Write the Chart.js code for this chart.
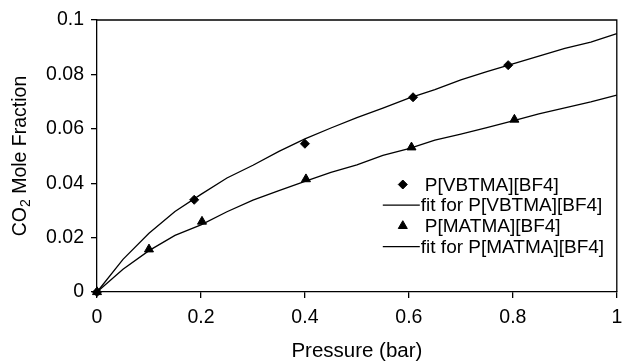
<!DOCTYPE html>
<html>
<head>
<meta charset="utf-8">
<script src="https://cdn.jsdelivr.net/npm/chart.js@4/dist/chart.umd.min.js"></script>
<style>
  html, body { margin: 0; padding: 0; background: #fff; }
  #wrap { width: 623px; height: 362px; }
</style>
</head>
<body>
<div id="wrap"><canvas id="c" width="623" height="362"></canvas></div>
<script>
// CO2 solubility in two poly(ionic liquid)s versus pressure
const seriesLabels = ['P[VBTMA][BF4]', 'fit for P[VBTMA][BF4]', 'P[MATMA][BF4]', 'fit for P[MATMA][BF4]'];

// measured points (pressure in bar, CO2 mole fraction)
const vbtmaPressure = [0, 0.187, 0.400, 0.608, 0.791];
const vbtmaFraction = [0, 0.0339, 0.0545, 0.0716, 0.0834];
const matmaPressure = [0, 0.100, 0.202, 0.402, 0.605, 0.803];
const matmaFraction = [0, 0.0157, 0.0259, 0.0415, 0.0532, 0.0634];

// fitted curves, tabulated every 0.05 bar
const fitPressure = [0, 0.05, 0.10, 0.15, 0.20, 0.25, 0.30, 0.35, 0.40, 0.45, 0.50,
                     0.55, 0.60, 0.65, 0.70, 0.75, 0.80, 0.85, 0.90, 0.95, 1.00];
const vbtmaFit = [0, 0.0120, 0.0216, 0.0296, 0.0359, 0.0419, 0.0466, 0.0517, 0.0563, 0.0603, 0.0641,
                  0.0676, 0.0713, 0.0744, 0.0780, 0.0810, 0.0839, 0.0867, 0.0896, 0.0919, 0.0950];
const matmaFit = [0, 0.0084, 0.0152, 0.0208, 0.0247, 0.0295, 0.0338, 0.0373, 0.0407, 0.0440, 0.0467,
                  0.0502, 0.0527, 0.0558, 0.0580, 0.0604, 0.0629, 0.0655, 0.0677, 0.0699, 0.0724];

// axis ticks
const xTickStep = 0.2;
const yTickStep = 0.02;

const FONT = '"Liberation Sans", Arial, sans-serif';
const INK = '#000';

const pairs = (xs, ys) => xs.map((x, i) => ({ x: x, y: ys[i] }));
const tickText = v => String(+Number(v).toFixed(2));

function marker(ctx, style, r, x, y) {
  ctx.save();
  ctx.fillStyle = INK;
  ctx.strokeStyle = INK;
  ctx.lineWidth = 1;
  if (Chart.helpers && Chart.helpers.drawPoint) {
    Chart.helpers.drawPoint(ctx, { pointStyle: style, radius: r, rotation: 0, borderWidth: 1 }, x, y);
  }
  ctx.restore();
}

// box around the plot, legend and axis titles
const decorations = {
  id: 'decorations',
  afterDraw(chart) {
    const { ctx, chartArea: a } = chart;
    ctx.save();
    ctx.strokeStyle = INK;
    ctx.lineWidth = 1.3;
    ctx.beginPath();
    ctx.moveTo(a.left, a.top);
    ctx.lineTo(a.right, a.top);
    ctx.lineTo(a.right, a.bottom);
    ctx.stroke();

    // legend inside the plot, lower right
    const lx = a.right - 234;
    const ly = a.top + 164.5;
    const rowH = 20.7;
    ctx.font = '19px ' + FONT;
    ctx.fillStyle = INK;
    ctx.textBaseline = 'middle';
    ctx.textAlign = 'left';
    chart.data.datasets.forEach((ds, i) => {
      const y = ly + rowH * i;
      if (ds.showLine === false) {
        marker(ctx, ds.pointStyle, ds.pointRadius, lx + 20, y);
        ctx.fillText(ds.label, lx + 42, y + 1);
      } else {
        ctx.beginPath();
        ctx.lineWidth = ds.borderWidth;
        ctx.moveTo(lx, y);
        ctx.lineTo(lx + 37, y);
        ctx.stroke();
        ctx.fillText(ds.label, lx + 38, y + 1);
      }
    });

    // x title
    ctx.font = '20.5px ' + FONT;
    ctx.textAlign = 'center';
    ctx.fillText('Pressure (bar)', (a.left + a.right) / 2, 351);

    // y title with subscript
    ctx.translate(21, (a.top + a.bottom) / 2);
    ctx.rotate(-Math.PI / 2);
    const big = '19.5px ' + FONT, small = '14px ' + FONT;
    ctx.font = big;
    const w1 = ctx.measureText('CO').width;
    const w3 = ctx.measureText(' Mole Fraction').width;
    ctx.font = small;
    const w2 = ctx.measureText('2').width;
    let x = -(w1 + w2 + w3) / 2;
    ctx.textAlign = 'left';
    ctx.font = big;
    ctx.fillText('CO', x, 0);
    x += w1;
    ctx.font = small;
    ctx.fillText('2', x, 5);
    x += w2;
    ctx.font = big;
    ctx.fillText(' Mole Fraction', x, 0);
    ctx.restore();
  }
};

new Chart(document.getElementById('c'), {
  type: 'scatter',
  data: {
    datasets: [
      { label: seriesLabels[0], data: pairs(vbtmaPressure, vbtmaFraction), showLine: false,
        pointStyle: 'rectRot', pointRadius: 4.5, backgroundColor: INK, borderColor: INK, clip: false },
      { label: seriesLabels[1], data: pairs(fitPressure, vbtmaFit), showLine: true, pointRadius: 0,
        borderColor: INK, borderWidth: 1.3, tension: 0, clip: false },
      { label: seriesLabels[2], data: pairs(matmaPressure, matmaFraction), showLine: false,
        pointStyle: 'triangle', pointRadius: 5.2, backgroundColor: INK, borderColor: INK, clip: false },
      { label: seriesLabels[3], data: pairs(fitPressure, matmaFit), showLine: true, pointRadius: 0,
        borderColor: INK, borderWidth: 1.3, tension: 0, clip: false }
    ]
  },
  options: {
    responsive: false,
    animation: false,
    layout: { padding: { top: 20, right: 5, left: 0, bottom: 0 } },
    plugins: { legend: { display: false }, tooltip: { enabled: false } },
    scales: {
      x: {
        type: 'linear', min: 0, max: 1,
        ticks: { stepSize: xTickStep, color: INK, padding: 8, font: { family: FONT, size: 19.5 },
                 maxRotation: 0, callback: tickText },
        grid: { drawOnChartArea: false, color: INK, lineWidth: 1.3, tickLength: 6 },
        border: { display: true, color: INK, width: 1.3 },
        afterFit(s) { s.height = 70; s.paddingLeft = 0; s.paddingRight = 0; }
      },
      y: {
        type: 'linear', min: 0, max: 0.1,
        ticks: { stepSize: yTickStep, color: INK, padding: 7, font: { family: FONT, size: 19.5 },
                 callback: tickText },
        grid: { drawOnChartArea: false, color: INK, lineWidth: 1.3, tickLength: 6 },
        border: { display: true, color: INK, width: 1.3 },
        afterFit(s) { s.width = 97; s.paddingTop = 0; s.paddingBottom = 0; }
      }
    }
  },
  plugins: [decorations]
});
</script>
</body>
</html>
